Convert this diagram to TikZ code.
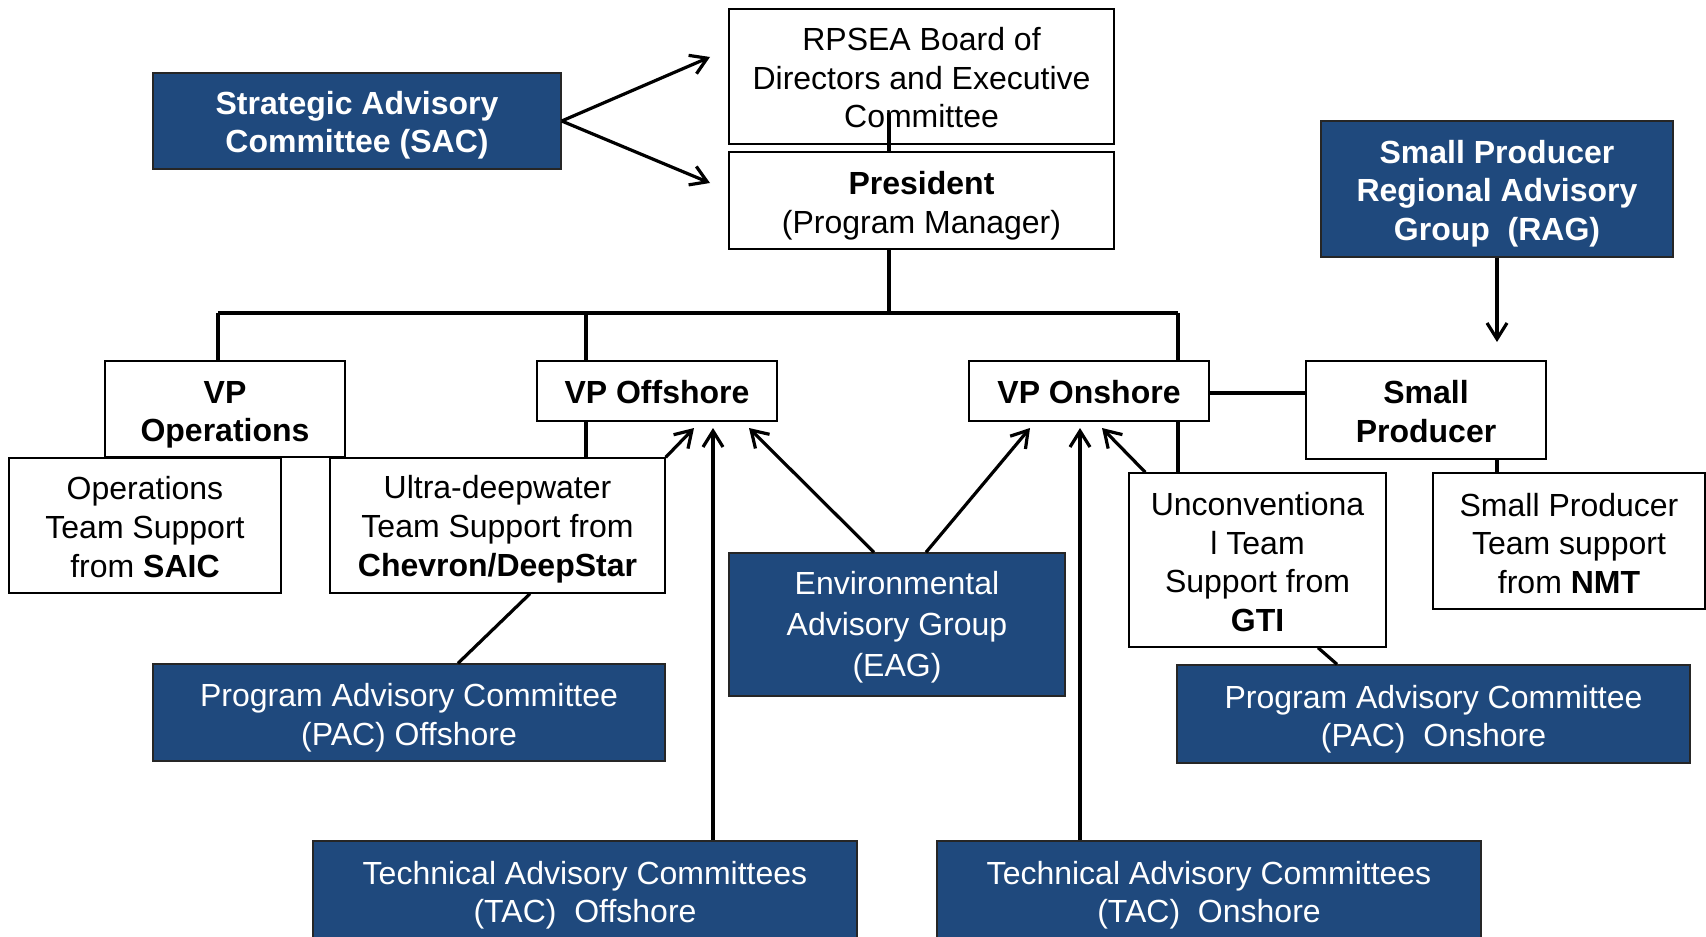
\documentclass[tikz,border=0pt]{standalone}
\usepackage{fontspec}
\setmainfont{Liberation Sans}
\usetikzlibrary{arrows.meta,calc}
\definecolor{navy}{RGB}{31,73,125}
\newcommand\tsp[1]{\rule{0pt}{#1pt}}
\begin{document}
\begin{tikzpicture}[x=0.5pt,y=-0.5pt,
  box/.style={draw=black, line width=0.7pt, fill=white, align=center, inner sep=0pt,
    font=\fontsize{16}{19.3}\selectfont, text=black},
  bbox/.style={box, fill=navy, text=white, draw=black!85},
  bold/.style={font=\fontsize{16}{19.3}\selectfont\bfseries},
  conn/.style={line width=1.6pt},
  busline/.style={line width=2pt},
  arr/.style={conn, -{Straight Barb[length=8pt,width=10pt]}}]
\useasboundingbox (0,0) rectangle (1706,936);

% top level
\node[box, minimum width=192.5pt, minimum height=67.5pt] (board) at (921.5,76.5) {\tsp{12.7}RPSEA Board of\\Directors and Executive\\Committee};
\node[box, minimum width=192.5pt, minimum height=48.5pt] (pres) at (921.5,200.5) {\tsp{17}\textbf{President}\\(Program Manager)};
\node[bbox, bold, minimum width=204pt, minimum height=48pt] (sac) at (357,121) {\tsp{16}Strategic Advisory\\Committee (SAC)};
\node[bbox, bold, minimum width=176pt, minimum height=68pt] (rag) at (1497,189) {\tsp{16}Small Producer\\Regional Advisory\\Group\ \ (RAG)};

% VP level
\node[box, bold, minimum width=120pt, minimum height=48pt] (vpops) at (225,409) {\tsp{17}VP\\Operations};
\node[box, bold, minimum width=120pt, minimum height=30pt] (vpoff) at (657,391) {\tsp{12.7}VP Offshore};
\node[box, bold, minimum width=120pt, minimum height=30pt] (vpon) at (1089,391) {\tsp{12.7}VP Onshore};
\node[box, bold, minimum width=120pt, minimum height=49pt] (small) at (1426,410) {\tsp{13.3}Small\\Producer};

% team support
\node[box, minimum width=136pt, minimum height=67.5pt] (opsteam) at (145,525.5) {\tsp{13.2}Operations\\Team Support\\from \textbf{SAIC}};
\node[box, minimum width=167.5pt, minimum height=67.5pt] (ultra) at (497.5,525.5) {\tsp{15.4}Ultra-deepwater\\Team Support from\\\textbf{Chevron/DeepStar}};
\node[box, minimum width=128.5pt, minimum height=87pt] (uncon) at (1257.5,560) {\tsp{13.8}Unconventiona\\l Team\\Support from\\\textbf{GTI}};
\node[box, minimum width=136pt, minimum height=68pt] (spteam) at (1569,541) {\tsp{13.8}Small Producer\\Team support\\from \textbf{NMT}};

% advisory groups
\node[bbox, minimum width=168pt, minimum height=71.5pt, font=\fontsize{16}{20.3}\selectfont] (eag) at (897,624.5) {\tsp{14.4}Environmental\\Advisory Group\\(EAG)};
\node[bbox, minimum width=256pt, minimum height=48.5pt] (pacoff) at (409,712.5) {\tsp{17}Program Advisory Committee\\(PAC) Offshore};
\node[bbox, minimum width=256.5pt, minimum height=49pt] (pacon) at (1433.5,714) {\tsp{17}Program Advisory Committee\\(PAC)\ \ Onshore};
\node[bbox, minimum width=272pt, minimum height=50pt] (tacoff) at (585,891) {\tsp{16}Technical Advisory Committees\\(TAC)\ \ Offshore};
\node[bbox, minimum width=272pt, minimum height=50pt] (tacon) at (1209,891) {\tsp{16}Technical Advisory Committees\\(TAC)\ \ Onshore};

% coordinates
\coordinate (bt) at (889,113);
\coordinate (busL) at (218,313);
\coordinate (busR) at (1178,313);
\coordinate (busC) at (889,313);
\coordinate (offx) at (586,313);
\coordinate (rx) at (1497,0);
\coordinate (sa1) at (710,57);
\coordinate (sa2) at (710,183);
\coordinate (ttx) at (713,0);
\coordinate (tnx) at (1080,0);
\coordinate (t1) at (694,428);
\coordinate (t2) at (749,428);
\coordinate (t3) at (1030,428);
\coordinate (t4) at (1102,428);
\coordinate (ragtip) at (1497,342);

% hierarchy lines
\draw[conn] (bt) -- (bt |- pres.north);
\draw[conn] (pres.south -| bt) -- (busC);
\draw[busline] (busL) -- (busR);
\draw[conn] (busL) -- (busL |- vpops.north);
\draw[conn] (offx) -- (offx |- vpoff.north);
\draw[conn] (offx |- vpoff.south) -- (offx |- ultra.north);
\draw[conn] (busR) -- (busR |- vpon.north);
\draw[conn] (busR |- vpon.south) -- (busR |- uncon.north);
\draw[busline] ($(vpon.east)+(0,2)$) -- ($(vpon.east -| small.west)+(0,2)$);
\draw[conn] (small.south -| rx) -- (spteam.north -| rx);
\draw[conn] ($(ultra.south)+(32.5,0)$) -- ($(pacoff.north)+(49,0)$);
\draw[conn] ($(uncon.south)+(60.5,0)$) -- ($(pacon.north)+(-96.5,0)$);

% arrows
\draw[arr] (sac.east) -- (sa1);
\draw[arr] (sac.east) -- (sa2);
\draw[arr] (rag.south) -- (ragtip);
\draw[arr] (tacoff.north -| ttx) -- (t1 -| ttx);
\draw[arr] (ultra.north east) -- (t1);
\draw[arr] ($(eag.north)+(-23,0)$) -- (t2);
\draw[arr] ($(eag.north)+(29,0)$) -- (t3);
\draw[arr] (tacon.north -| tnx) -- (t4 -| tnx);
\draw[arr] ($(uncon.north west)+(17,0)$) -- (t4);
\end{tikzpicture}
\end{document}
